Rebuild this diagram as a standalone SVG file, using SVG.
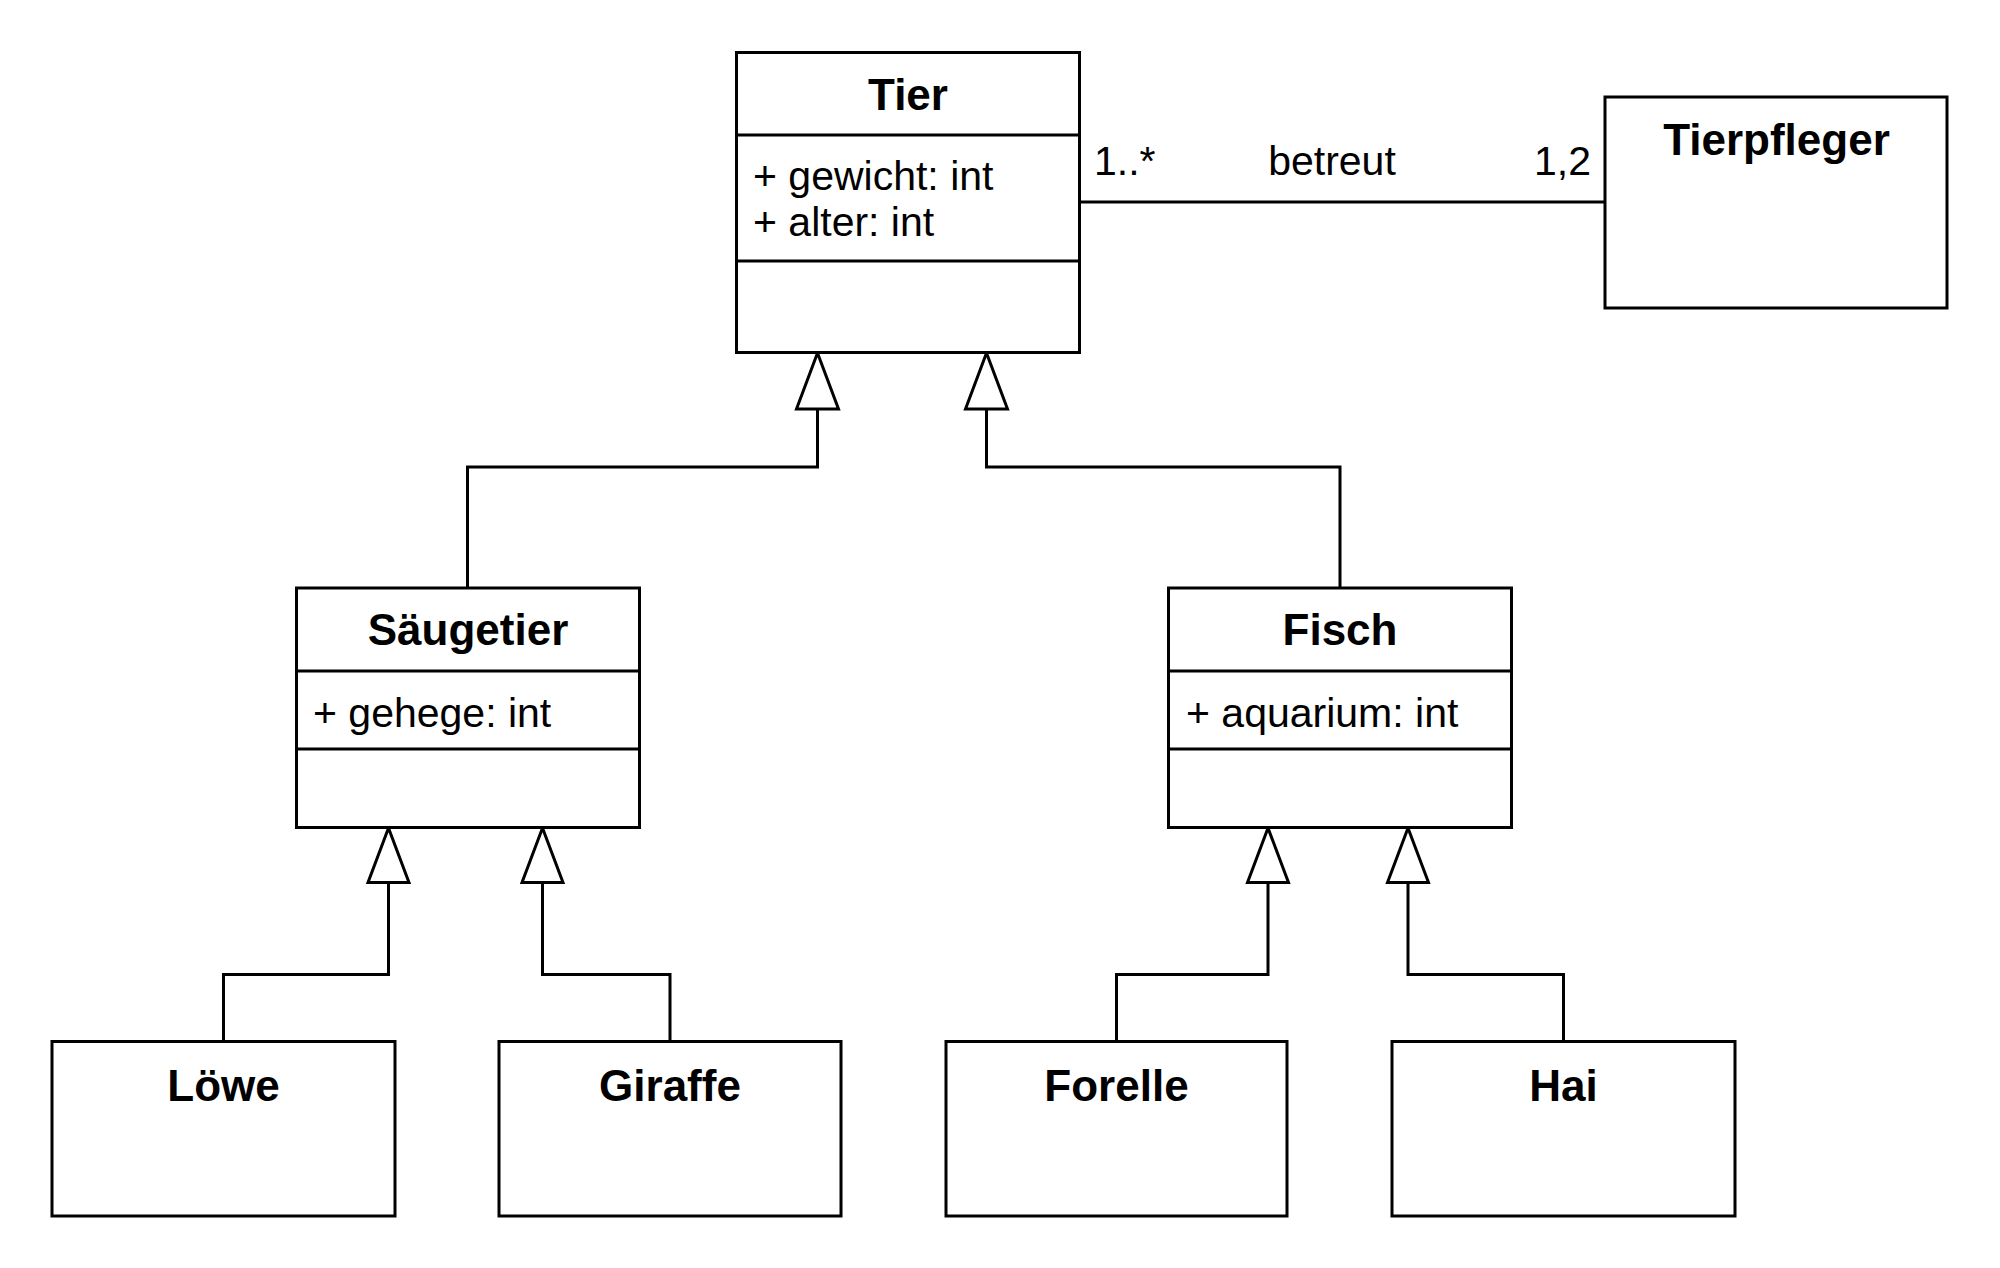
<svg xmlns="http://www.w3.org/2000/svg" width="2000" height="1268" viewBox="0 0 2000 1268">
<style>
.box{fill:#fff;stroke:#000;stroke-width:3}
.div{stroke:#000;stroke-width:3;fill:none}
.edge{fill:none;stroke:#000;stroke-width:3}
.head{fill:#fff;stroke:#000;stroke-width:3;stroke-linejoin:miter}
.t{font-family:"Liberation Sans",Arial,sans-serif;font-size:44px;font-weight:bold;fill:#000;text-anchor:middle}
.a{font-family:"Liberation Sans",Arial,sans-serif;font-size:41px;fill:#000}
</style>
<rect width="2000" height="1268" fill="#fff"/>
<g id="connectors">
<path class="edge" d="M1080 202 H1604"/>
<text class="a" x="1094" y="175">1..*</text>
<text class="a" x="1332" y="175" text-anchor="middle">betreut</text>
<text class="a" x="1591" y="175" text-anchor="end">1,2</text>
<path class="edge" d="M467.5 588 V467 H817.5 V409"/>
<polygon class="head" points="817.5,353 796.5,409 838.5,409"/>
<path class="edge" d="M1340 588 V467 H986.5 V409"/>
<polygon class="head" points="986.5,353 965.5,409 1007.5,409"/>
<path class="edge" d="M223.5 1041 V974.5 H388.5 V882.5"/>
<polygon class="head" points="388.5,828 368,882.5 409,882.5"/>
<path class="edge" d="M670 1041 V974.5 H542.5 V882.5"/>
<polygon class="head" points="542.5,828 522,882.5 563,882.5"/>
<path class="edge" d="M1116.5 1041 V974.5 H1268 V882.5"/>
<polygon class="head" points="1268,828 1247.5,882.5 1288.5,882.5"/>
<path class="edge" d="M1563.5 1041 V974.5 H1408 V882.5"/>
<polygon class="head" points="1408,828 1387.5,882.5 1428.5,882.5"/>
</g>
<g id="tier">
<rect class="box" x="736.5" y="52.5" width="343" height="300"/>
<line class="div" x1="736.5" y1="135" x2="1079.5" y2="135"/>
<line class="div" x1="736.5" y1="261" x2="1079.5" y2="261"/>
<text class="t" x="908" y="110">Tier</text>
<text class="a" x="753" y="190">+ gewicht: int</text>
<text class="a" x="753" y="236">+ alter: int</text>
</g>
<g id="tierpfleger">
<rect class="box" x="1605" y="97" width="342" height="211"/>
<text class="t" x="1776.5" y="155">Tierpfleger</text>
</g>
<g id="saeugetier">
<rect class="box" x="296.5" y="588" width="343" height="239.5"/>
<line class="div" x1="296.5" y1="671" x2="639.5" y2="671"/>
<line class="div" x1="296.5" y1="749" x2="639.5" y2="749"/>
<text class="t" x="468" y="645">Säugetier</text>
<text class="a" x="313" y="727">+ gehege: int</text>
</g>
<g id="fisch">
<rect class="box" x="1168.5" y="588" width="343" height="239.5"/>
<line class="div" x1="1168.5" y1="671" x2="1511.5" y2="671"/>
<line class="div" x1="1168.5" y1="749" x2="1511.5" y2="749"/>
<text class="t" x="1340" y="645">Fisch</text>
<text class="a" x="1186" y="727">+ aquarium: int</text>
</g>
<g id="loewe">
<rect class="box" x="52" y="1041.5" width="343" height="174.5"/>
<text class="t" x="223.5" y="1101">Löwe</text>
</g>
<g id="giraffe">
<rect class="box" x="499" y="1041.5" width="342" height="174.5"/>
<text class="t" x="670" y="1101">Giraffe</text>
</g>
<g id="forelle">
<rect class="box" x="946" y="1041.5" width="341" height="174.5"/>
<text class="t" x="1116.5" y="1101">Forelle</text>
</g>
<g id="hai">
<rect class="box" x="1392" y="1041.5" width="343" height="174.5"/>
<text class="t" x="1563.5" y="1101">Hai</text>
</g>
</svg>
